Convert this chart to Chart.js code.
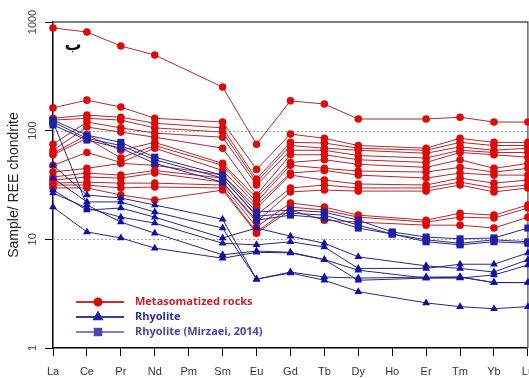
<!DOCTYPE html>
<html>
<head>
<meta charset="utf-8">
<script src="https://cdn.jsdelivr.net/npm/chart.js@4.4.0/dist/chart.umd.min.js"></script>
<style>
  html, body { margin: 0; padding: 0; background: #fff; overflow: hidden; }
  #wrap { width: 529px; height: 378px; overflow: hidden; }
</style>
</head>
<body>
<div id="wrap"><canvas id="reeChart" width="543" height="378" style="width:543px;height:378px"></canvas></div>
<script>
// REE elements on the x axis (Pm has no analyses, Ho only in the Mirzaei set)
var elements = ['La', 'Ce', 'Pr', 'Nd', 'Pm', 'Sm', 'Eu', 'Gd', 'Tb', 'Dy', 'Ho', 'Er', 'Tm', 'Yb', 'Lu'];
var yTicks = [1, 10, 100, 1000];

// Metasomatized rocks
var metasomatized = [
    [881, 809, 601, 497, null, 252, 75, 188, 176, 128, null, 128, 133, 120, 120],
    [162, 191, 165, 130, null, 120, 44, 93, 85, 73, null, 69, 85, 78, 78],
    [130, 139, 133, 117, null, 106, 35.8, 78, 77, 69, null, 66, 78, 73, 73],
    [125, 130, 125, 106, null, 97, 33.6, 73, 69, 66, null, 62, 71, 66, 69],
    [75, 120, 106, 95, null, 87, 31.6, 66, 66, 59, null, 56, 66, 63, 63],
    [66, 108, 97, 87, null, 69, 25.6, 60, 60, 54, null, 51, 63, 60, 57],
    [62, 91, 66, 78, null, 50, 24, 51, 54, 49, null, 46, 54, 45, 50],
    [60, 85, 56, 73, null, 48, 22.1, 48, 45, 42.5, null, 41.6, 46, 41.6, 45],
    [48, 63, 51, 69, null, 43, 20.7, 40.7, 43, 39, null, 36.6, 40.7, 39, 39],
    [41.6, 45, 50, 48, null, 39, 19.4, 39, 35.1, 32.3, null, 31.6, 36.6, 32.9, 35.1],
    [37.5, 40.7, 39, 43, null, 36.6, 16.7, 29.7, 31.6, 29.7, null, 29.7, 33.6, 29.7, 31.6],
    [35.1, 37.5, 36.6, 40.7, null, 33.6, 14.4, 27.3, 28.4, 27.8, null, 27.8, 31.6, 27.3, 29.7],
    [32.9, 33.6, 32.9, 32.9, null, 31.6, 13.0, 21.6, 19.8, 16.7, null, 15.0, 17.4, 16.7, 20.7],
    [31.6, 31.6, 29.7, 30.3, null, 29.7, 11.7, 19.8, 18.6, 16.0, null, 14.4, 16.0, 15.7, 19.4],
    [29.7, 29.7, 25.6, 23, null, 28.4, 11.4, 18.6, 15.0, 14.4, null, 13.5, 13.5, 12.7, 16.0]
];

// Rhyolite
var rhyolite = [
    [48, 25.6, 24, 20.7, null, 15.3, 4.3, 5.0, 4.5, 4.4, null, 4.5, 4.5, 4.0, 4.0],
    [36.6, 22.1, 22.1, 17.8, null, 12.7, 4.3, 4.9, 4.2, 3.3, null, 2.6, 2.4, 2.3, 2.4],
    [28.4, 18.6, 19.4, 16.0, null, 10.3, 12.7, 10.7, 9.2, 6.9, null, 5.7, 5.4, 5.0, 6.5],
    [26.7, 19.4, 16.0, 14.1, null, 9.2, 8.9, 9.5, 8.5, 5.4, null, 5.4, 5.9, 5.9, 7.5],
    [120, 20.7, 14.4, 11.4, null, 7.2, 7.8, 7.6, 6.5, 5.2, null, 4.4, 4.4, 4.7, 5.8],
    [19.8, 11.7, 10.3, 8.3, null, 6.7, 7.6, 7.5, 6.5, 4.2, null, 4.4, 4.5, 4.0, 4.0]
];

// Rhyolite (Mirzaei, 2014)
var rhyoliteMirzaei = [
    [125, 91, 78, 57, null, 39, 17.8, 18.6, 17.8, 15.0, 11.7, 10.5, 10.1, 10.3, 12.7],
    [120, 85, 73, 54, null, 36.6, 16.3, 17.4, 16.7, 13.5, 11.2, 9.9, 9.2, 9.9, 9.5],
    [113, 82, 69, 50, null, 33.6, 15.0, 16.7, 15.7, 12.7, 11.2, 9.5, 8.9, 9.5, 9.2]
];

function makeSets(rows, lineColor, pointColor, style, radius) {
    return rows.map(function (row) {
        return {
            data: row,
            borderColor: lineColor,
            borderWidth: 1,
            pointStyle: style,
            pointRadius: radius,
            pointBackgroundColor: pointColor,
            pointBorderColor: pointColor,
            pointBorderWidth: 0,
            spanGaps: true,
            tension: 0,
            clip: false
        };
    });
}

// blue first so it is painted on top of the red lines
var datasets = []
    .concat(makeSets(rhyoliteMirzaei, '#2a2a8a', '#1f1fa8', 'rect', 5))
    .concat(makeSets(rhyolite, '#26287e', '#1010a8', 'triangle', 4.5))
    .concat(makeSets(metasomatized, '#b3282d', '#dd0a0a', 'circle', 3.8));

var legendItems = [
    { text: 'Metasomatized rocks', line: '#d02a2a', point: '#dd0a0a', style: 'circle', r: 4.5, color: '#cc1f26' },
    { text: 'Rhyolite', line: '#3b3b98', point: '#2020a8', style: 'triangle', r: 6.5, color: '#2c2e9c' },
    { text: 'Rhyolite (Mirzaei, 2014)', line: '#8080c4', point: '#4848b4', style: 'rect', r: 6, color: '#4648a8' }
];

var decorPlugin = {
    id: 'decor',
    beforeDatasetsDraw: function (chart) {
        var ctx = chart.ctx, a = chart.chartArea, y = chart.scales.y;
        ctx.save();
        // dotted guide lines
        ctx.strokeStyle = '#a8a8a8';
        ctx.lineWidth = 1;
        ctx.setLineDash([2, 2]);
        [10, 100].forEach(function (v) {
            var py = Math.round(y.getPixelForValue(v)) + 0.5;
            ctx.beginPath();
            ctx.moveTo(a.left, py);
            ctx.lineTo(a.right, py);
            ctx.stroke();
        });
        ctx.setLineDash([]);
        // top and right frame
        ctx.strokeStyle = '#555';
        ctx.lineWidth = 1.3;
        ctx.beginPath();
        ctx.moveTo(a.left, a.top);
        ctx.lineTo(a.right, a.top);
        ctx.lineTo(a.right, a.bottom);
        ctx.stroke();
        ctx.restore();
    },
    afterDraw: function (chart) {
        var ctx = chart.ctx, a = chart.chartArea, y = chart.scales.y;
        ctx.save();
        // rotated y tick labels
        ctx.fillStyle = '#444';
        ctx.font = '11px "Liberation Sans", Arial, sans-serif';
        ctx.textAlign = 'center';
        ctx.textBaseline = 'middle';
        yTicks.forEach(function (v) {
            ctx.save();
            ctx.translate(a.left - 20, y.getPixelForValue(v));
            ctx.rotate(-Math.PI / 2);
            ctx.fillText(String(v), 0, 0);
            ctx.restore();
        });

        // panel letter
        ctx.fillStyle = '#111';
        ctx.font = 'bold 17px "DejaVu Sans", sans-serif';
        ctx.fillText('ب', a.left + 20, a.top + 24);

        // legend inside the plot
        var lx = a.left + 23, ly = a.bottom - 46;
        legendItems.forEach(function (item, i) {
            var yy = ly + i * 15;
            ctx.strokeStyle = item.line;
            ctx.lineWidth = 2;
            ctx.beginPath();
            ctx.moveTo(lx, yy);
            ctx.lineTo(lx + 48, yy);
            ctx.stroke();
            ctx.fillStyle = item.point;
            ctx.strokeStyle = item.point;
            Chart.helpers.drawPoint(ctx, { pointStyle: item.style, radius: item.r, borderWidth: 0, rotation: 0 }, lx + 22, yy);
            ctx.fillStyle = item.color;
            ctx.font = 'bold 11px "Open Sans", sans-serif';
            ctx.textAlign = 'left';
            ctx.textBaseline = 'middle';
            ctx.fillText(item.text, lx + 59, yy);
        });
        ctx.restore();
    }
};

var config = {
    type: 'line',
    data: { labels: elements, datasets: datasets },
    options: {
        responsive: false,
        animation: false,
        layout: { padding: { top: 22, right: 10, left: 0, bottom: 0 } },
        plugins: { legend: { display: false }, tooltip: { enabled: false } },
        scales: {
            x: {
                type: 'category',
                offset: false,
                grid: { drawOnChartArea: false, tickLength: 8, tickColor: '#000', color: '#000' },
                border: { color: '#000', width: 1.5 },
                ticks: {
                    autoSkip: false, maxRotation: 0, padding: 9, color: '#333',
                    font: { family: '"Liberation Sans", Arial, sans-serif', size: 11 }
                },
                afterFit: function (scale) { scale.height = 30; }
            },
            y: {
                type: 'logarithmic',
                min: 1,
                max: 1000,
                grid: { drawOnChartArea: false, tickLength: 8, tickColor: '#000', color: '#000' },
                border: { color: '#000', width: 1.5 },
                ticks: { display: false },
                title: {
                    display: true,
                    text: 'Sample/ REE chondrite',
                    color: '#222',
                    padding: { top: 6, bottom: 0 },
                    font: { family: '"Liberation Sans", Arial, sans-serif', size: 14 }
                },
                afterBuildTicks: function (scale) {
                    scale.ticks = yTicks.map(function (v) { return { value: v }; });
                },
                afterFit: function (scale) { scale.width = 53; }
            }
        }
    },
    plugins: [decorPlugin]
};

var ctx = document.getElementById('reeChart').getContext('2d');
new Chart(ctx, config);
</script>
</body>
</html>
